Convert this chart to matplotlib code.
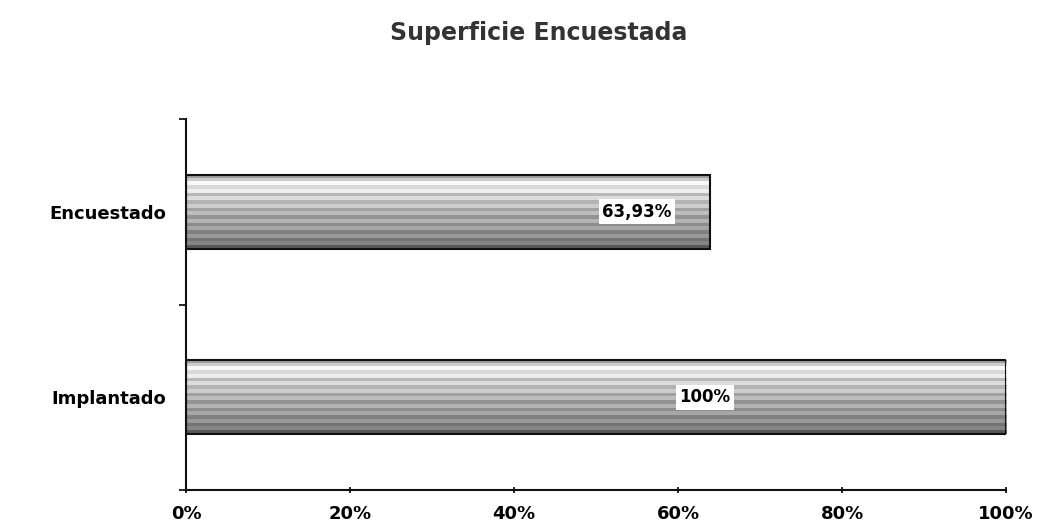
import numpy as np
import matplotlib
matplotlib.use('Agg')
import matplotlib.pyplot as plt
from matplotlib.ticker import FuncFormatter

# Datos del gráfico
categorias = ['Implantado', 'Encuestado']
valores = [100, 63.93]
etiquetas = ['100%', '63,93%']
pos_etiquetas = [63.3, 55.0]  # posición x de las etiquetas (en %)
ticks_x = [0, 20, 40, 60, 80, 100]

fig = plt.figure(figsize=(10.46, 5.26), dpi=100)
ax = fig.add_axes([0.1778, 0.0684, 0.7840, 0.7054])

bars = ax.barh(range(len(categorias)), valores, height=0.4,
               color='none', edgecolor='#111111', linewidth=1.5, zorder=3)

# relleno con franjas horizontales grises (claro arriba, oscuro abajo)
franjas = np.array([0.62, 0.80, 0.97, 0.85, 0.93, 0.72, 0.86, 0.70, 0.80, 0.63,
                    0.74, 0.58, 0.70, 0.55, 0.65, 0.50, 0.60, 0.45, 0.52, 0.35])
grad = np.repeat(franjas, 3)[:, None]
for b in bars:
    x0, y0 = b.get_x(), b.get_y()
    im = ax.imshow(grad, cmap='gray', vmin=0, vmax=1, aspect='auto',
                   extent=(x0, x0 + b.get_width(), y0, y0 + b.get_height()),
                   interpolation='nearest', zorder=2)
    im.set_clip_path(b)

for i, (txt, xp) in enumerate(zip(etiquetas, pos_etiquetas)):
    ax.text(xp, i, txt, ha='center', va='center', fontsize=12,
            fontweight='bold', zorder=4,
            bbox=dict(boxstyle='square,pad=0.2', fc='white', ec='none'))

ax.set_xlim(0, 100)
ax.set_ylim(-0.5, 1.5)
ax.set_xticks(ticks_x)
ax.xaxis.set_major_formatter(FuncFormatter(lambda v, p: f'{int(v)}%'))
ax.set_yticks(range(len(categorias)))
ax.set_yticklabels(categorias)
ax.set_yticks([-0.5, 0.5, 1.5], minor=True)
ax.tick_params(axis='y', which='major', length=0, pad=14)
ax.tick_params(axis='y', which='minor', length=5, width=1.2, direction='out')
ax.tick_params(axis='x', length=5, width=1.2, direction='inout', pad=8)
for lab in ax.get_xticklabels() + ax.get_yticklabels():
    lab.set_fontweight('bold')
    lab.set_fontsize(13)

for s in ['top', 'right']:
    ax.spines[s].set_visible(False)
for s in ['left', 'bottom']:
    ax.spines[s].set_linewidth(1.5)
    ax.spines[s].set_color('#111111')

fig.text(0.515, 0.937, 'Superficie Encuestada', ha='center', va='center',
         fontsize=17, fontweight='bold', color='#333333')

fig.savefig('out.png', dpi=100)
